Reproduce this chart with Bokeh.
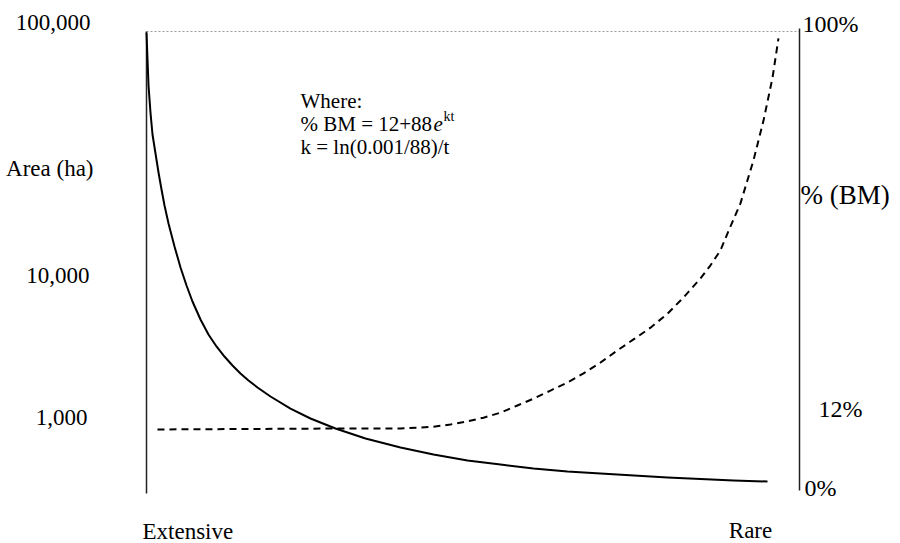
from bokeh.plotting import figure
from bokeh.models import Range1d, LogScale, Label
from bokeh.embed import file_html
from bokeh.resources import INLINE

# ---- data ----
# solid curve: area (ha) against rarity position (0 = extensive, 1 = rare)
rarity_area = [0.0, 0.0015, 0.0031, 0.0061, 0.0092, 0.0138, 0.0184, 0.0230,
               0.0276, 0.0337, 0.0429, 0.0521, 0.0613, 0.0704, 0.0827, 0.0949,
               0.1072, 0.1194, 0.1317, 0.1439, 0.1562, 0.1700, 0.1899, 0.2205,
               0.2511, 0.2894, 0.3354, 0.3890, 0.4395, 0.4916, 0.5421, 0.5926,
               0.6447, 0.6953, 0.7979, 0.8989, 0.9510]
area_ha = [98810, 72460, 52520, 38050, 29270, 23330, 18600, 15180,
           12540, 10120, 7691, 5988, 4830, 3991, 3220, 2692,
           2333, 2070, 1860, 1690, 1555, 1430, 1285, 1113,
           988, 877, 778, 699, 643, 599, 571, 544,
           525, 513, 489, 472, 466]

# dashed curve: % BM against rarity position
rarity_bm = [0.0168, 0.2894, 0.3890, 0.4395, 0.4655, 0.4916, 0.5161, 0.5421,
             0.5681, 0.5926, 0.6187, 0.6447, 0.6692, 0.6953, 0.7213, 0.7458,
             0.7718, 0.7979, 0.8224, 0.8484, 0.8637, 0.8790, 0.8928, 0.9096,
             0.9295, 0.9449, 0.9587, 0.9678]
bm_pct = [12.0, 12.2, 12.2, 12.6, 13.1, 13.8, 14.6, 15.7,
          17.3, 18.8, 20.6, 22.4, 24.4, 26.8, 29.5, 31.9,
          34.5, 37.6, 41.2, 45.4, 48.3, 51.6, 56.4, 62.0,
          71.5, 80.3, 89.8, 98.5]

area_tick_labels = ["100,000", "10,000", "1,000"]
bm_tick_labels = ["100%", "12%", "0%"]
x_category_labels = ["Extensive", "Rare"]
area_axis_title = "Area (ha)"
bm_axis_title = "% (BM)"
formula_lines = ["Where:", "% BM = 12+88", "e", "kt", "k = ln(0.001/88)/t"]

FONT = "Liberation Serif"
W, H = 900, 543


# pixel -> data helpers (layout only)
def X(px):
    return (px - 146) / 653.0


def Y(py):
    return 100 - (py - 31) / 4.522


def A(py):
    return 10 ** (5 - (py - 31) / 193.0)


p = figure(width=W, height=H, title=None,
           x_range=Range1d(X(0), X(W)), y_range=Range1d(Y(H), Y(0)),
           x_axis_type=None, y_axis_type=None,
           toolbar_location=None, output_backend="svg",
           min_border_left=0, min_border_right=0,
           min_border_top=0, min_border_bottom=0,
           outline_line_color=None, background_fill_color="white",
           border_fill_color="white")

p.extra_y_ranges = {"area": Range1d(A(H), A(0))}
p.extra_y_scales = {"area": LogScale()}

# frame lines: dotted top at 100 %, solid left / right axes
p.segment(x0=[X(146)], y0=[100], x1=[X(799)], y1=[100],
          line_color="#9c9c9c", line_width=1, line_dash="2 2")
p.segment(x0=[0, 1], y0=[Y(493), Y(490)], x1=[0, 1], y1=[100, Y(28)],
          line_color="#222222", line_width=1.5)

p.line(rarity_area, area_ha, y_range_name="area", line_color="black",
       line_width=2, line_join="round")
p.line(rarity_bm, bm_pct, line_color="black", line_width=2,
       line_dash="7 5", line_join="round")


def lab(text, px, py, align, size, style="normal"):
    p.add_layout(Label(x=X(px), y=Y(py), text=text, text_align=align,
                       text_baseline="middle", text_font=FONT,
                       text_font_size=f"{size}px", text_color="black",
                       text_font_style=style))


# left labels
lab(area_tick_labels[0], 90, 22, "right", 23)
lab(area_axis_title, 93, 168, "right", 23)
lab(area_tick_labels[1], 89, 275, "right", 23)
lab(area_tick_labels[2], 87, 417, "right", 23)
# right labels
lab(bm_tick_labels[0], 802, 23, "left", 24)
lab(bm_axis_title, 800, 194, "left", 27)
lab(bm_tick_labels[1], 818, 408, "left", 24)
lab(bm_tick_labels[2], 804, 487, "left", 24)
# bottom labels
lab(x_category_labels[0], 142, 531, "left", 23)
lab(x_category_labels[1], 750, 530, "center", 23)
# formula
lab(formula_lines[0], 300, 100, "left", 21)
lab(formula_lines[1], 300, 123, "left", 21)
lab(formula_lines[2], 433, 123, "left", 21, "italic")
lab(formula_lines[3], 443, 116, "left", 14)
lab(formula_lines[4], 300, 146, "left", 21)

open("out.html", "w").write(file_html(p, INLINE))
